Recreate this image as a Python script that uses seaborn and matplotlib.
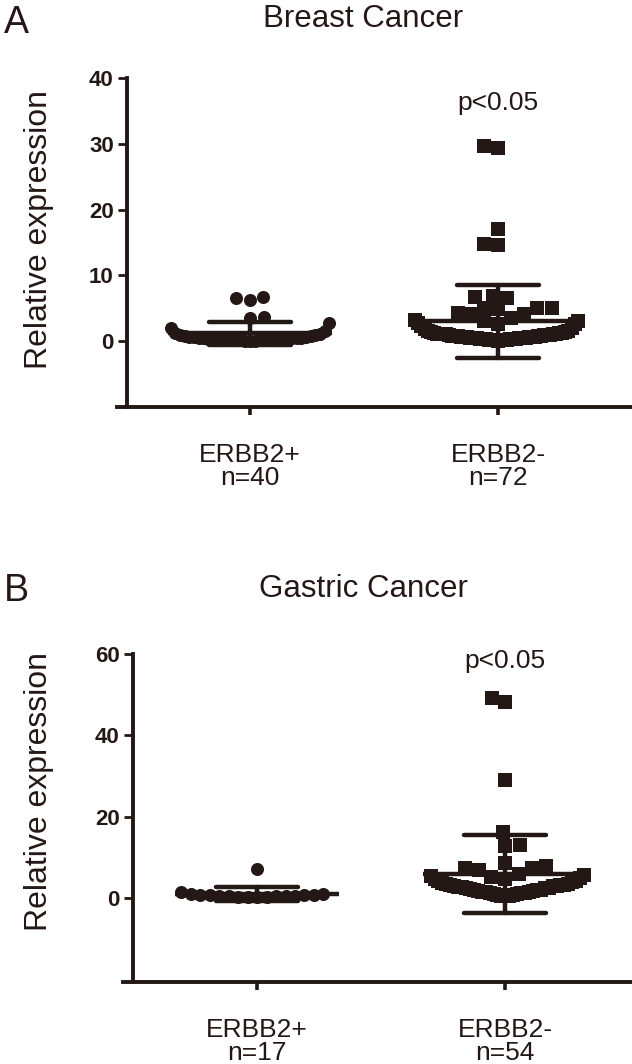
import numpy as np
import pandas as pd
import seaborn as sns
import matplotlib.pyplot as plt

INK = '#231815'
groups = ['ERBB2+', 'ERBB2-']

# values (relative expression); "band" = the packed smile, "high" = stand-alone dots
breast_pos_band = [0.05, 0.08, 0.1, 0.12, 0.14, 0.16, 0.18, 0.2, 0.22, 0.24, 0.26, 0.28,
                   0.3, 0.32, 0.34, 0.36, 0.38, 0.4, 0.42, 0.45, 0.48, 0.5, 0.55, 0.6,
                   0.65, 0.7, 0.75, 0.8, 0.9, 1.0, 1.1, 1.3, 1.6, 2.0, 2.8]
breast_pos_high = [6.7, 6.6, 6.3, 3.7, 3.6]
breast_neg_band = [0.1, 0.12, 0.15, 0.18, 0.2, 0.22, 0.25, 0.28, 0.3, 0.32, 0.35, 0.38,
                   0.4, 0.42, 0.45, 0.48, 0.5, 0.52, 0.55, 0.58, 0.6, 0.62, 0.65, 0.68,
                   0.7, 0.72, 0.75, 0.78, 0.8, 0.85, 0.9, 0.95, 1.0, 1.0, 1.05, 1.05,
                   1.1, 1.1, 1.15, 1.15, 1.2, 1.25, 1.3, 1.35, 1.4, 1.5, 1.6, 1.8, 2.0,
                   2.3, 2.6, 2.8, 3.0, 3.2]
breast_neg_high = [29.6, 29.4, 17.0, 14.7, 14.6, 6.8, 6.7, 6.5, 5.1, 5.0, 5.0, 4.9,
                   4.3, 4.2, 4.1, 3.6, 3.0, 2.6]
gastric_pos_band = [0.3, 0.35, 0.4, 0.45, 0.5, 0.55, 0.6, 0.65, 0.7, 0.75, 0.8,
                    0.85, 0.9, 1.0, 1.2, 1.5]
gastric_pos_high = [7.3]
gastric_neg_band = [0.5, 0.6, 0.7, 0.8, 0.9, 1.0, 1.1, 1.25, 1.3, 1.4, 1.5, 1.6, 1.7,
                    1.85, 1.9, 2.0, 2.1, 2.2, 2.3, 2.45, 2.5, 2.6, 2.7, 2.8, 2.95, 3.0,
                    3.1, 3.2, 3.3, 3.4, 3.5, 3.6, 3.8, 4.0, 4.2, 4.4, 4.7, 5.0, 5.4, 5.8]
gastric_neg_high = [49.1, 48.2, 29.0, 16.2, 13.1, 12.9, 8.8, 7.9, 7.6, 7.4, 6.9, 6.1,
                    5.2, 4.9]

breast_ticks = ['ERBB2+\nn=40', 'ERBB2-\nn=72']
gastric_ticks = ['ERBB2+\nn=17', 'ERBB2-\nn=54']

sns.set_theme(style='ticks')
plt.rcParams['font.family'] = ['Liberation Sans', 'DejaVu Sans']
plt.rcParams['text.color'] = INK

fig = plt.figure(figsize=(6.32, 10.64), dpi=100)
axA = fig.add_axes([117 / 632, 1 - 407 / 1064, 515 / 632, 329 / 1064])
axB = fig.add_axes([123 / 632, 1 - 982 / 1064, 509 / 632, 328 / 1064])

band_swarms = []   # (collection, final marker size)


def panel(ax, pos, neg, band_layout, ylim, yticks, ticklabels, p_y, xlim, spine_x):
    df = pd.DataFrame({'group': [groups[0]] * len(pos[0] + pos[1]) + [groups[1]] * len(neg[0] + neg[1]),
                       'value': pos[0] + pos[1] + neg[0] + neg[1]})
    # mean +/- SD
    sns.pointplot(data=df, x='group', y='value', order=groups, errorbar='sd',
                  capsize=0.33, color=INK, linestyle='none', marker='_',
                  markersize=118, markeredgewidth=3.2, err_kws={'linewidth': 3.2}, ax=ax)
    for grp, (band, high), mk, lay, big in [(groups[0], pos, 'o', band_layout[0], 9.4),
                                            (groups[1], neg, 's', band_layout[1], 9.8)]:
        n0 = len(ax.collections)
        sns.swarmplot(x=[grp] * len(band), y=band, order=groups, marker=mk,
                      size=lay, color=INK, linewidth=0, ax=ax)
        for coll in ax.collections[n0:]:
            band_swarms.append((coll, big))
        sns.swarmplot(x=[grp] * len(high), y=high, order=groups, marker=mk,
                      size=big, color=INK, linewidth=0, ax=ax)
    ax.set_xlim(*xlim)
    ax.set_yticks(yticks)
    ax.set_xticks([0, 1])
    ax.set_xticklabels(ticklabels, fontsize=19, linespacing=0.95)
    ax.set_xlabel('')
    ax.set_ylabel('Relative expression', fontsize=23, color=INK)
    for s in ['top', 'right']:
        ax.spines[s].set_visible(False)
    for s in ['left', 'bottom']:
        ax.spines[s].set_linewidth(2.8)
        ax.spines[s].set_color(INK)
    ax.spines['left'].set_position(('data', spine_x))
    ax.tick_params(axis='y', length=6.5, width=2.0, pad=3, labelsize=16, colors=INK)
    ax.tick_params(axis='x', length=6, width=2.6, pad=20, colors=INK)
    for lbl in ax.get_yticklabels():
        lbl.set_fontweight('bold')
    ax.text(1, p_y, 'p<0.05', ha='center', va='baseline', fontsize=19, color=INK)
    # squeeze y while the packed band is laid out, so it forms one curved row
    ax.set_ylim(ylim[0], ylim[0] + (ylim[1] - ylim[0]) * 25)


panel(axA, (breast_pos_band, breast_pos_high), (breast_neg_band, breast_neg_high),
      (3.2, 2.1), (-10, 40), [0, 10, 20, 30, 40], breast_ticks, 35.1, (-0.536, 1.54), -0.496)
panel(axB, (gastric_pos_band, gastric_pos_high), (gastric_neg_band, gastric_neg_high),
      (6.5, 2.7), (-20.5, 60), [0, 20, 40, 60], gastric_ticks, 56.5, (-0.54, 1.51), -0.5)

fig.canvas.draw()
for coll, big in band_swarms:
    if 'draw' in coll.__dict__:
        del coll.draw
    coll.set_sizes([big ** 2])
axA.set_ylim(-10, 40)
axB.set_ylim(-20.5, 60)

axA.yaxis.set_label_coords(-0.122, 0.54)
axB.yaxis.set_label_coords(-0.136, 0.58)

fig.text(4 / 632, 1 - 33 / 1064, 'A', fontsize=27, ha='left', va='baseline')
fig.text(4 / 632, 1 - 601 / 1064, 'B', fontsize=27, ha='left', va='baseline')
fig.text(363 / 632, 1 - 27 / 1064, 'Breast Cancer', fontsize=22.5, ha='center', va='baseline')
fig.text(363 / 632, 1 - 597 / 1064, 'Gastric Cancer', fontsize=22.5, ha='center', va='baseline')

fig.savefig('out.png', dpi=100)
